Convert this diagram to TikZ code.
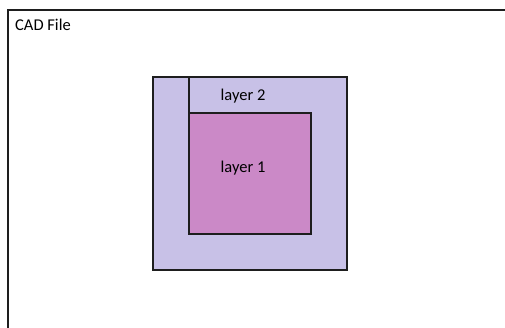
\documentclass[tikz,border=0pt]{standalone}
\usepackage{fontspec}
\setmainfont{Carlito}
\definecolor{outerfill}{RGB}{200,193,231}
\definecolor{innerfill}{RGB}{203,137,199}
\definecolor{edge}{RGB}{30,30,30}
\begin{document}
\begin{tikzpicture}[x=1pt,y=-1pt,
  lbl/.style={font=\fontsize{16.5}{18}\selectfont, inner sep=0pt},
  sq/.style={draw=edge, line width=1.5pt}]
\useasboundingbox (0,0) rectangle (505,327);
\draw[edge, line width=2pt] (8,340) -- (8,10) -- (520,10);
\node[lbl, anchor=west] (cad) at (15,25) {CAD File};
\draw[sq, fill=outerfill] (153,77) rectangle (347,270);
\draw[sq, fill=innerfill] (189,113) rectangle (311,234);
\coordinate (vtop) at (189,77);
\coordinate (vbot) at (189,113);
\draw[sq] (vtop) -- (vbot);
\node[lbl] (l2) at (243,96) {layer 2};
\node[lbl] (l1) at (243,168) {layer 1};
\end{tikzpicture}
\end{document}
